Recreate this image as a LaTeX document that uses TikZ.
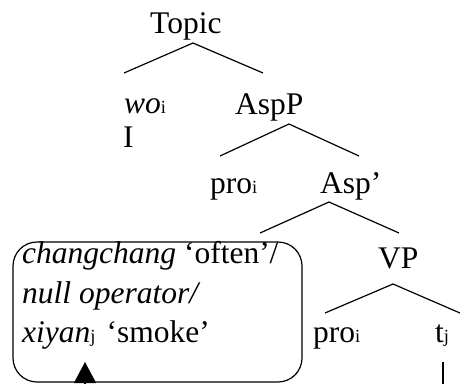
\documentclass[tikz,border=0pt]{standalone}
\usepackage{fontspec}
\setmainfont{Liberation Serif}
\usetikzlibrary{arrows.meta}

\newcommand{\idx}[1]{{\fontsize{18.5}{18.5}\selectfont #1}}

\begin{document}
\begin{tikzpicture}[
    x=1pt, y=-1pt,
    font=\fontsize{31.5}{36}\selectfont,
    lbl/.style={anchor=base west, inner sep=0pt},
    branch/.style={line width=1.2pt},
    opbox/.style={draw, line width=1.2pt, rounded corners=24pt, minimum width=289pt, minimum height=140pt, inner sep=0pt},
    arr/.style={line width=1.2pt, -{Triangle[width=22pt, length=21pt]}}
]
\useasboundingbox (0,0) rectangle (460,383);
\clip (0,0) rectangle (460,383);

% labels
\node[lbl] (topic) at (150,33) {Topic};
\node[lbl] (wo) at (124,113) {\textit{wo}\idx{i}};
\node[lbl] (gloss) at (123,147) {I};
\node[lbl] (aspP) at (235,114) {AspP};
\node[lbl] (pro1) at (210,193) {pro\idx{i}};
\node[lbl] (aspbar) at (320,193) {Asp'};
\node[lbl] (vp) at (378,268) {VP};
\node[lbl] (pro2) at (313,342) {pro\idx{i}};
\node[lbl] (trace) at (435,342) {t\idx{j}};

% the boxed item
\node[opbox] (box) at (157.5,312) {};
\node[lbl] (adv) at (22,263) {\textit{changchang} `often'/};
\node[lbl] (nullop) at (22,303) {\textit{null operator/}};
\node[lbl] (obj) at (22,342) {\textit{xiyan}\idx{j}\hspace{11pt}`smoke'};

% branch points
\coordinate (topic-top) at (193,43);
\coordinate (topic-l) at (124,73);
\coordinate (topic-r) at (263,73);
\coordinate (aspP-top) at (289,124);
\coordinate (aspP-l) at (220,156);
\coordinate (aspP-r) at (359,156);
\coordinate (aspbar-top) at (329,202);
\coordinate (aspbar-l) at (260,233);
\coordinate (aspbar-r) at (399,233);
\coordinate (vp-top) at (393,284);
\coordinate (vp-l) at (325,313);
\coordinate (vp-r) at (460,313);
\coordinate (trace-foot) at (443,362);
\coordinate (obj-foot) at (85,362);

\draw[branch] (topic-l) -- (topic-top) -- (topic-r);
\draw[branch] (aspP-l) -- (aspP-top) -- (aspP-r);
\draw[branch] (aspbar-l) -- (aspbar-top) -- (aspbar-r);
\draw[branch] (vp-l) -- (vp-top) -- (vp-r);

% movement
\draw[arr] (trace-foot) -- ++(0,40) -| (obj-foot);
\end{tikzpicture}
\end{document}
